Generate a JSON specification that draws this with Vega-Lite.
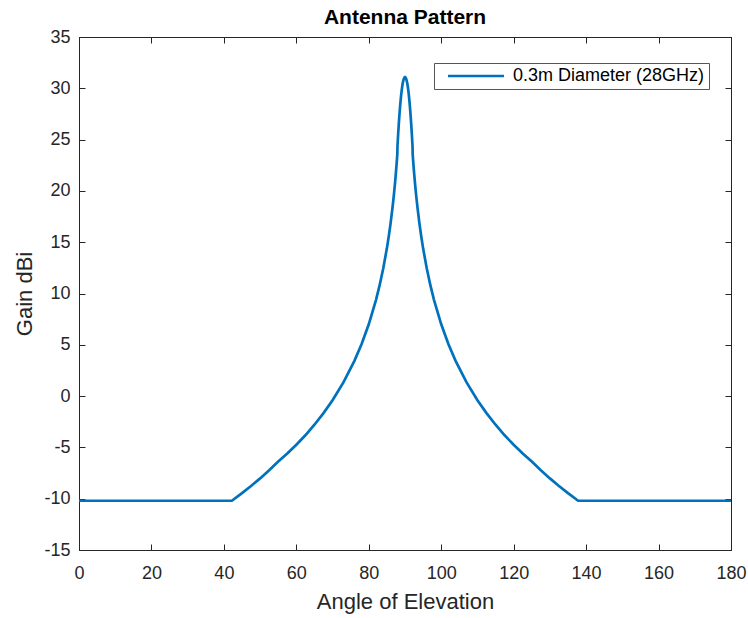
{
  "$schema": "https://vega.github.io/schema/vega-lite/v6.json",
  "width": 652,
  "height": 513,
  "autosize": {"type": "none"},
  "padding": {"left": 79, "top": 37, "right": 17, "bottom": 68},
  "background": "white",
  "title": {"text": "Antenna Pattern", "font": "Liberation Sans", "fontSize": 21, "fontWeight": "bold", "color": "#000000", "offset": 0},
  "config": {
    "view": {"stroke": "#262626", "strokeWidth": 1},
    "axis": {"grid": false, "labelFont": "Liberation Sans", "titleFont": "Liberation Sans", "labelColor": "#262626", "titleColor": "#262626", "labelFontSize": 18, "titleFontSize": 22, "titleFontWeight": "normal", "domainColor": "#262626", "tickColor": "#262626", "tickSize": -6, "labelFlush": false, "labelOverlap": false, "labelExpr": "datum.value < 0 ? '-' + abs(datum.value) : '' + datum.value"}
  },
  "data": {"values": [
    {"angle": 0, "gain": -10.2, "series": "0.3m Diameter (28GHz)"},
    {"angle": 42.2, "gain": -10.2, "series": "0.3m Diameter (28GHz)"},
    {"angle": 45, "gain": -9.46, "series": "0.3m Diameter (28GHz)"},
    {"angle": 47.5, "gain": -8.76, "series": "0.3m Diameter (28GHz)"},
    {"angle": 50, "gain": -8.02, "series": "0.3m Diameter (28GHz)"},
    {"angle": 52.5, "gain": -7.23, "series": "0.3m Diameter (28GHz)"},
    {"angle": 55, "gain": -6.38, "series": "0.3m Diameter (28GHz)"},
    {"angle": 57.5, "gain": -5.6, "series": "0.3m Diameter (28GHz)"},
    {"angle": 60, "gain": -4.74, "series": "0.3m Diameter (28GHz)"},
    {"angle": 62.5, "gain": -3.82, "series": "0.3m Diameter (28GHz)"},
    {"angle": 65, "gain": -2.79, "series": "0.3m Diameter (28GHz)"},
    {"angle": 67.5, "gain": -1.66, "series": "0.3m Diameter (28GHz)"},
    {"angle": 70, "gain": -0.4, "series": "0.3m Diameter (28GHz)"},
    {"angle": 73, "gain": 1.33, "series": "0.3m Diameter (28GHz)"},
    {"angle": 76, "gain": 3.41, "series": "0.3m Diameter (28GHz)"},
    {"angle": 78, "gain": 5.05, "series": "0.3m Diameter (28GHz)"},
    {"angle": 80, "gain": 7.0, "series": "0.3m Diameter (28GHz)"},
    {"angle": 82, "gain": 9.38, "series": "0.3m Diameter (28GHz)"},
    {"angle": 83, "gain": 10.81, "series": "0.3m Diameter (28GHz)"},
    {"angle": 84, "gain": 12.46, "series": "0.3m Diameter (28GHz)"},
    {"angle": 85, "gain": 14.4, "series": "0.3m Diameter (28GHz)"},
    {"angle": 85.5, "gain": 15.53, "series": "0.3m Diameter (28GHz)"},
    {"angle": 86, "gain": 16.79, "series": "0.3m Diameter (28GHz)"},
    {"angle": 86.5, "gain": 18.22, "series": "0.3m Diameter (28GHz)"},
    {"angle": 86.75, "gain": 19.01, "series": "0.3m Diameter (28GHz)"},
    {"angle": 87, "gain": 19.86, "series": "0.3m Diameter (28GHz)"},
    {"angle": 87.25, "gain": 20.79, "series": "0.3m Diameter (28GHz)"},
    {"angle": 87.5, "gain": 21.81, "series": "0.3m Diameter (28GHz)"},
    {"angle": 87.7, "gain": 22.7, "series": "0.3m Diameter (28GHz)"},
    {"angle": 87.88, "gain": 23.57, "series": "0.3m Diameter (28GHz)"},
    {"angle": 87.92, "gain": 24.35, "series": "0.3m Diameter (28GHz)"},
    {"angle": 88.1, "gain": 25.47, "series": "0.3m Diameter (28GHz)"},
    {"angle": 88.3, "gain": 26.59, "series": "0.3m Diameter (28GHz)"},
    {"angle": 88.5, "gain": 27.59, "series": "0.3m Diameter (28GHz)"},
    {"angle": 88.7, "gain": 28.46, "series": "0.3m Diameter (28GHz)"},
    {"angle": 88.9, "gain": 29.21, "series": "0.3m Diameter (28GHz)"},
    {"angle": 89.1, "gain": 29.84, "series": "0.3m Diameter (28GHz)"},
    {"angle": 89.3, "gain": 30.34, "series": "0.3m Diameter (28GHz)"},
    {"angle": 89.5, "gain": 30.71, "series": "0.3m Diameter (28GHz)"},
    {"angle": 89.7, "gain": 30.96, "series": "0.3m Diameter (28GHz)"},
    {"angle": 89.9, "gain": 31.08, "series": "0.3m Diameter (28GHz)"},
    {"angle": 90, "gain": 31.1, "series": "0.3m Diameter (28GHz)"},
    {"angle": 90.1, "gain": 31.08, "series": "0.3m Diameter (28GHz)"},
    {"angle": 90.3, "gain": 30.96, "series": "0.3m Diameter (28GHz)"},
    {"angle": 90.5, "gain": 30.71, "series": "0.3m Diameter (28GHz)"},
    {"angle": 90.7, "gain": 30.34, "series": "0.3m Diameter (28GHz)"},
    {"angle": 90.9, "gain": 29.84, "series": "0.3m Diameter (28GHz)"},
    {"angle": 91.1, "gain": 29.21, "series": "0.3m Diameter (28GHz)"},
    {"angle": 91.3, "gain": 28.46, "series": "0.3m Diameter (28GHz)"},
    {"angle": 91.5, "gain": 27.59, "series": "0.3m Diameter (28GHz)"},
    {"angle": 91.7, "gain": 26.59, "series": "0.3m Diameter (28GHz)"},
    {"angle": 91.9, "gain": 25.47, "series": "0.3m Diameter (28GHz)"},
    {"angle": 92.08, "gain": 24.35, "series": "0.3m Diameter (28GHz)"},
    {"angle": 92.12, "gain": 23.57, "series": "0.3m Diameter (28GHz)"},
    {"angle": 92.3, "gain": 22.7, "series": "0.3m Diameter (28GHz)"},
    {"angle": 92.5, "gain": 21.81, "series": "0.3m Diameter (28GHz)"},
    {"angle": 92.75, "gain": 20.79, "series": "0.3m Diameter (28GHz)"},
    {"angle": 93, "gain": 19.86, "series": "0.3m Diameter (28GHz)"},
    {"angle": 93.25, "gain": 19.01, "series": "0.3m Diameter (28GHz)"},
    {"angle": 93.5, "gain": 18.22, "series": "0.3m Diameter (28GHz)"},
    {"angle": 94, "gain": 16.79, "series": "0.3m Diameter (28GHz)"},
    {"angle": 94.5, "gain": 15.53, "series": "0.3m Diameter (28GHz)"},
    {"angle": 95, "gain": 14.4, "series": "0.3m Diameter (28GHz)"},
    {"angle": 96, "gain": 12.46, "series": "0.3m Diameter (28GHz)"},
    {"angle": 97, "gain": 10.81, "series": "0.3m Diameter (28GHz)"},
    {"angle": 98, "gain": 9.38, "series": "0.3m Diameter (28GHz)"},
    {"angle": 100, "gain": 7.0, "series": "0.3m Diameter (28GHz)"},
    {"angle": 102, "gain": 5.05, "series": "0.3m Diameter (28GHz)"},
    {"angle": 104, "gain": 3.41, "series": "0.3m Diameter (28GHz)"},
    {"angle": 107, "gain": 1.33, "series": "0.3m Diameter (28GHz)"},
    {"angle": 110, "gain": -0.4, "series": "0.3m Diameter (28GHz)"},
    {"angle": 112.5, "gain": -1.66, "series": "0.3m Diameter (28GHz)"},
    {"angle": 115, "gain": -2.79, "series": "0.3m Diameter (28GHz)"},
    {"angle": 117.5, "gain": -3.82, "series": "0.3m Diameter (28GHz)"},
    {"angle": 120, "gain": -4.74, "series": "0.3m Diameter (28GHz)"},
    {"angle": 122.5, "gain": -5.6, "series": "0.3m Diameter (28GHz)"},
    {"angle": 125, "gain": -6.38, "series": "0.3m Diameter (28GHz)"},
    {"angle": 127.5, "gain": -7.23, "series": "0.3m Diameter (28GHz)"},
    {"angle": 130, "gain": -8.02, "series": "0.3m Diameter (28GHz)"},
    {"angle": 132.5, "gain": -8.76, "series": "0.3m Diameter (28GHz)"},
    {"angle": 135, "gain": -9.46, "series": "0.3m Diameter (28GHz)"},
    {"angle": 137.8, "gain": -10.2, "series": "0.3m Diameter (28GHz)"},
    {"angle": 180, "gain": -10.2, "series": "0.3m Diameter (28GHz)"}
  ]},
  "layer": [
    {
      "mark": {"type": "line", "strokeWidth": 2.7, "clip": true},
      "encoding": {
        "x": {"field": "angle", "type": "quantitative", "scale": {"domain": [0, 180], "nice": false, "zero": false}, "axis": {"orient": "bottom", "values": [0, 20, 40, 60, 80, 100, 120, 140, 160, 180], "title": "Angle of Elevation", "labelPadding": 20, "titlePadding": 9}},
        "y": {"field": "gain", "type": "quantitative", "scale": {"domain": [-15, 35], "nice": false, "zero": false}, "axis": {"orient": "left", "values": [-15, -10, -5, 0, 5, 10, 15, 20, 25, 30, 35], "title": "Gain dBi", "labelPadding": 15, "titlePadding": 7}},
        "color": {"field": "series", "type": "nominal", "scale": {"range": ["#0072BD"]}, "legend": {"title": null, "orient": "none", "legendX": 355, "legendY": 26, "symbolType": "M-4,0H4", "symbolSize": 196, "symbolStrokeWidth": 2.7, "symbolStrokeColor": "#0072BD", "symbolFillColor": "transparent", "symbolOffset": 29, "labelFont": "Liberation Sans", "labelFontSize": 18, "labelColor": "#000000", "labelOffset": 28, "labelLimit": 400, "padding": 4, "fillColor": "white", "strokeColor": "#555555"}}
      }
    },
    {
      "mark": {"type": "line", "opacity": 0},
      "encoding": {
        "x": {"field": "angle", "type": "quantitative", "scale": {"domain": [0, 180], "nice": false, "zero": false}, "axis": {"orient": "top", "values": [0, 20, 40, 60, 80, 100, 120, 140, 160, 180], "labels": false, "title": null}},
        "y": {"field": "gain", "type": "quantitative", "scale": {"domain": [-15, 35], "nice": false, "zero": false}, "axis": {"orient": "right", "values": [-15, -10, -5, 0, 5, 10, 15, 20, 25, 30, 35], "labels": false, "title": null}}
      }
    }
  ],
  "resolve": {"axis": {"x": "independent", "y": "independent"}}
}
